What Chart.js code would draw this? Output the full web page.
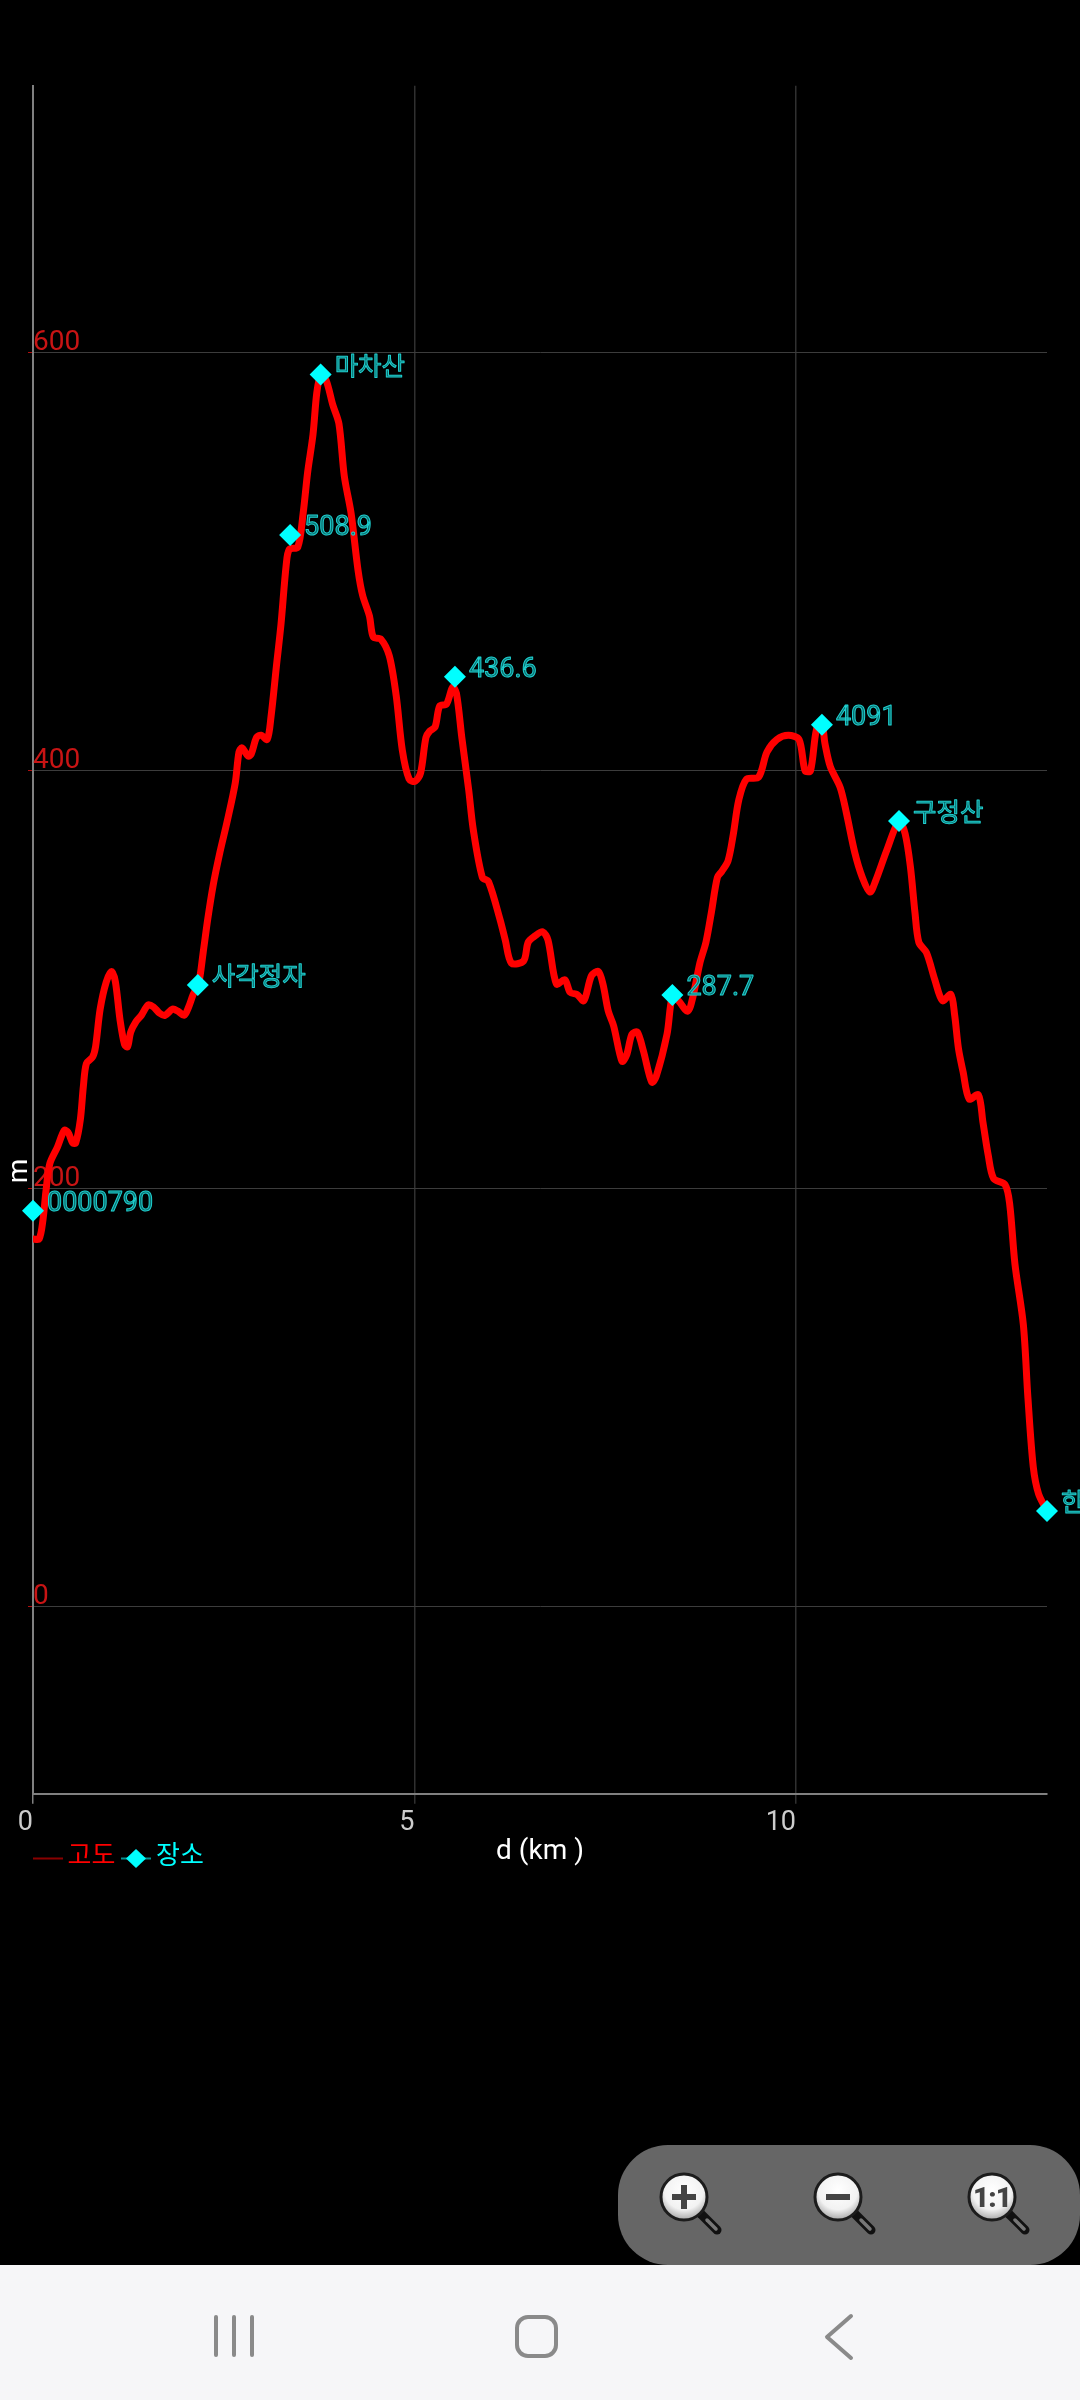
<!DOCTYPE html>
<html lang="ko">
<head>
<meta charset="utf-8">
<title>고도</title>
<script src="https://cdn.jsdelivr.net/npm/chart.js@4/dist/chart.umd.min.js"></script>
<style>
  html, body { margin: 0; background: #000; }
  body { position: relative; width: 1080px; height: 2400px; overflow: hidden; }
  canvas { position: absolute; left: 0; top: 0; }
  #zoomBar, #navBar { position: absolute; left: 0; top: 0; }
</style>
</head>
<body>
<canvas id="myChart" width="1080" height="1870"></canvas>

<svg id="zoomBar" width="1080" height="2400" xmlns="http://www.w3.org/2000/svg">
  <defs>
    <radialGradient id="lens" cx="50%" cy="35%" r="65%">
      <stop offset="0%" stop-color="#ffffff"/>
      <stop offset="65%" stop-color="#f2f2f2"/>
      <stop offset="100%" stop-color="#a8a8a8"/>
    </radialGradient>
    <g id="glass">
      <line x1="17" y1="17" x2="33" y2="33" stroke="#111" stroke-width="9" stroke-linecap="round"/>
      <line x1="23" y1="23" x2="32" y2="32" stroke="#777" stroke-width="3.5" stroke-linecap="round"/>
      <circle r="23" fill="url(#lens)" stroke="#1c1c1c" stroke-width="3"/>
    </g>
  </defs>
  <rect x="618" y="2145" width="462" height="120" rx="50" fill="#666666"/>
  <use href="#glass" x="684" y="2197"/>
  <line x1="672" y1="2197" x2="696" y2="2197" stroke="#444" stroke-width="6"/>
  <line x1="684" y1="2185" x2="684" y2="2209" stroke="#444" stroke-width="6"/>
  <use href="#glass" x="838" y="2197"/>
  <line x1="826" y1="2197" x2="850" y2="2197" stroke="#444" stroke-width="6"/>
  <use href="#glass" x="992" y="2197"/>
  <text x="992" y="2207" text-anchor="middle" font-family="Roboto" font-weight="900" font-size="28" letter-spacing="-1" fill="#444">1:1</text>

  <rect x="0" y="2265" width="1080" height="135" fill="#f6f6f8"/>
  <g stroke="#8a8a8a" stroke-width="4" fill="none" stroke-linecap="round" stroke-linejoin="round">
    <line x1="216" y1="2317" x2="216" y2="2355"/>
    <line x1="234" y1="2317" x2="234" y2="2355"/>
    <line x1="252" y1="2317" x2="252" y2="2355"/>
    <rect x="517" y="2317" width="39" height="39" rx="11"/>
    <polyline points="851,2316 827,2337 851,2358"/>
  </g>
</svg>

<script>
// distance along the track (km) / elevation (m)
const distKm = [0.00, 0.08, 0.13, 0.17, 0.22, 0.32, 0.41, 0.46, 0.52, 0.56, 0.62, 0.66, 0.70, 0.78, 0.82, 0.88, 0.96, 1.03, 1.08, 1.14,
  1.20, 1.24, 1.28, 1.35, 1.42, 1.51, 1.58, 1.66, 1.73, 1.83, 1.90, 1.98, 2.04, 2.10, 2.17, 2.23, 2.29, 2.36, 2.45, 2.54,
  2.65, 2.70, 2.74, 2.82, 2.86, 2.93, 2.99, 3.07, 3.12, 3.19, 3.25, 3.32, 3.36, 3.47, 3.54, 3.60, 3.67, 3.72, 3.77, 3.84,
  3.93, 4.01, 4.08, 4.17, 4.26, 4.32, 4.41, 4.46, 4.56, 4.67, 4.76, 4.84, 4.93, 5.01, 5.08, 5.15, 5.20, 5.27, 5.33, 5.42,
  5.50, 5.55, 5.62, 5.71, 5.77, 5.89, 5.97, 6.12, 6.19, 6.27, 6.43, 6.49, 6.58, 6.68, 6.75, 6.86, 6.97, 7.04, 7.13, 7.22,
  7.32, 7.41, 7.47, 7.54, 7.61, 7.72, 7.78, 7.85, 7.92, 8.00, 8.11, 8.17, 8.31, 8.38, 8.46, 8.58, 8.65, 8.74, 8.82, 8.89,
  8.97, 9.03, 9.11, 9.18, 9.25, 9.35, 9.51, 9.62, 9.75, 9.90, 10.04, 10.12, 10.19, 10.27, 10.34, 10.38, 10.45, 10.58, 10.66, 10.77,
  10.87, 10.97, 11.04, 11.19, 11.35, 11.43, 11.50, 11.56, 11.61, 11.71, 11.82, 11.92, 12.03, 12.08, 12.13, 12.19, 12.27, 12.39, 12.45, 12.52,
  12.59, 12.74, 12.80, 12.87, 12.98, 13.04, 13.11, 13.18, 13.29];
const elevM = [176, 176, 185, 199, 212, 220, 228, 227, 222, 222, 233, 249, 260, 263, 268, 286, 299, 304, 299, 281,
  269, 268, 275, 280, 283, 288, 287, 284, 283, 286, 285, 283, 287, 293, 298, 313, 329, 345, 361, 375,
  394, 409, 411, 407, 408, 416, 417, 415, 426, 450, 470, 499, 506, 507, 523, 543, 561, 581, 589, 587,
  575, 566, 541, 523, 496, 484, 474, 464, 463, 455, 436, 410, 396, 395, 399, 416, 419, 421, 431, 432,
  440, 437, 416, 391, 372, 349, 347, 329, 319, 308, 309, 318, 321, 323, 319, 298, 300, 294, 293, 290,
  302, 304, 298, 285, 278, 261, 264, 274, 275, 266, 251, 254, 274, 292, 290, 285, 292, 308, 318, 332,
  349, 352, 357, 370, 386, 396, 397, 409, 415, 417, 415, 400, 400, 420, 422, 413, 402, 392, 380, 361,
  349, 342, 347, 362, 376, 370, 354, 332, 318, 313, 300, 290, 293, 283, 267, 256, 243, 245, 232, 216,
  205, 202, 193, 164, 135, 100, 67, 54, 46];

const placeKm = [0, 2.16, 3.37, 3.77, 5.53, 8.38, 10.34, 11.35, 13.29];
const placeM = [189.5, 297.5, 512.8, 589.6, 445, 292.7, 422, 376, 45.8];
const placeNames = ['0000790', '사각정자', '508.9', '마차산', '436.6', '287.7', '4091', '구정산', '한'];

const xTicks = [0, 5, 10];
const yTicks = [0, 200, 400, 600];

const FONT = "Roboto, 'Noto Sans CJK KR', sans-serif";

// place names, the m axis title and the legend have no fitting built-in spot
const extras = {
  id: 'extras',
  afterDatasetsDraw(chart) {
    const ctx = chart.ctx;
    const pts = chart.getDatasetMeta(1).data;
    ctx.save();
    ctx.textBaseline = 'alphabetic';
    ctx.textAlign = 'left';
    ctx.lineWidth = 1;
    ctx.lineJoin = 'round';
    pts.forEach((p, i) => {
      // digits come out a bit wider than hangul in the reference
      ctx.font = (/^[0-9.]+$/.test(placeNames[i]) ? '27px ' : '25.5px ') + FONT;
      ctx.fillStyle = '#0b7070';
      ctx.fillText(placeNames[i], p.x + 14, p.y);
      ctx.strokeStyle = '#1fd0d0';
      ctx.strokeText(placeNames[i], p.x + 14, p.y);
    });

    // y axis title
    ctx.save();
    ctx.font = '28px ' + FONT;
    ctx.translate(20, 1171);
    ctx.rotate(-Math.PI / 2);
    ctx.fillStyle = '#ffffff';
    ctx.textAlign = 'center';
    ctx.textBaseline = 'middle';
    ctx.fillText('m', 0, 0);
    ctx.restore();

    // legend
    ctx.lineWidth = 2;
    ctx.strokeStyle = '#8a0000';
    ctx.beginPath(); ctx.moveTo(33, 1858.5); ctx.lineTo(63, 1858.5); ctx.stroke();
    ctx.font = '26px ' + FONT;
    ctx.fillStyle = '#ff0000';
    ctx.fillText('고도', 67.5, 1864);
    ctx.strokeStyle = '#0a8f8f';
    ctx.beginPath(); ctx.moveTo(121, 1858.5); ctx.lineTo(151, 1858.5); ctx.stroke();
    ctx.fillStyle = '#00ffff';
    ctx.beginPath();
    ctx.moveTo(136, 1849); ctx.lineTo(146, 1858.5); ctx.lineTo(136, 1868); ctx.lineTo(126, 1858.5);
    ctx.closePath(); ctx.fill();
    ctx.fillText('장소', 156, 1864);
    ctx.restore();
  }
};

new Chart(document.getElementById('myChart'), {
  type: 'scatter',
  data: {
    datasets: [
      {
        label: '고도',
        data: distKm.map((d, i) => ({ x: d, y: elevM[i] })),
        showLine: true,
        borderColor: '#ff0000',
        borderWidth: 7,
        borderCapStyle: 'round',
        borderJoinStyle: 'round',
        tension: 0.3,
        pointRadius: 0,
        order: 2
      },
      {
        label: '장소',
        data: placeKm.map((d, i) => ({ x: d, y: placeM[i] })),
        showLine: false,
        pointStyle: 'rectRot',
        pointRadius: 11,
        pointBorderWidth: 0,
        pointBackgroundColor: '#00ffff',
        clip: false,
        order: 1
      }
    ]
  },
  options: {
    responsive: false,
    animation: false,
    layout: { padding: { left: 33, right: 33, top: 85.7, bottom: 0 } },
    plugins: { legend: { display: false }, tooltip: { enabled: false } },
    scales: {
      x: {
        type: 'linear',
        min: 0,
        max: 13.29,
        afterBuildTicks: s => { s.ticks = xTicks.map(v => ({ value: v })); },
        afterFit: s => { s.height = 76.3; s.paddingLeft = 0; s.paddingRight = 0; },
        border: { color: '#808080', width: 2 },
        grid: {
          color: '#303030',
          lineWidth: 1.5,
          tickLength: 10,
          tickColor: c => (c.index === 0 ? '#808080' : '#303030')
        },
        ticks: { color: '#cccccc', font: { family: FONT, size: 27 }, padding: 3, align: 'end', labelOffset: 0, maxRotation: 0, autoSkip: false },
        title: { display: true, text: 'd (km )', color: '#ffffff', font: { family: FONT, size: 28 }, padding: { top: 0, bottom: 1 } }
      },
      y: {
        type: 'linear',
        min: -89.4,
        max: 727.8,
        afterBuildTicks: s => { s.ticks = yTicks.map(v => ({ value: v })); },
        afterFit: s => { s.width = 0; },
        border: { color: '#808080', width: 2 },
        grid: { color: '#3c3c3c', lineWidth: 1, tickLength: 5, tickColor: '#b01010' },
        ticks: { color: '#c81414', font: { family: FONT, size: 28 }, mirror: true, padding: 0, labelOffset: -10, autoSkip: false }
      }
    }
  },
  plugins: [extras]
});
</script>
</body>
</html>
